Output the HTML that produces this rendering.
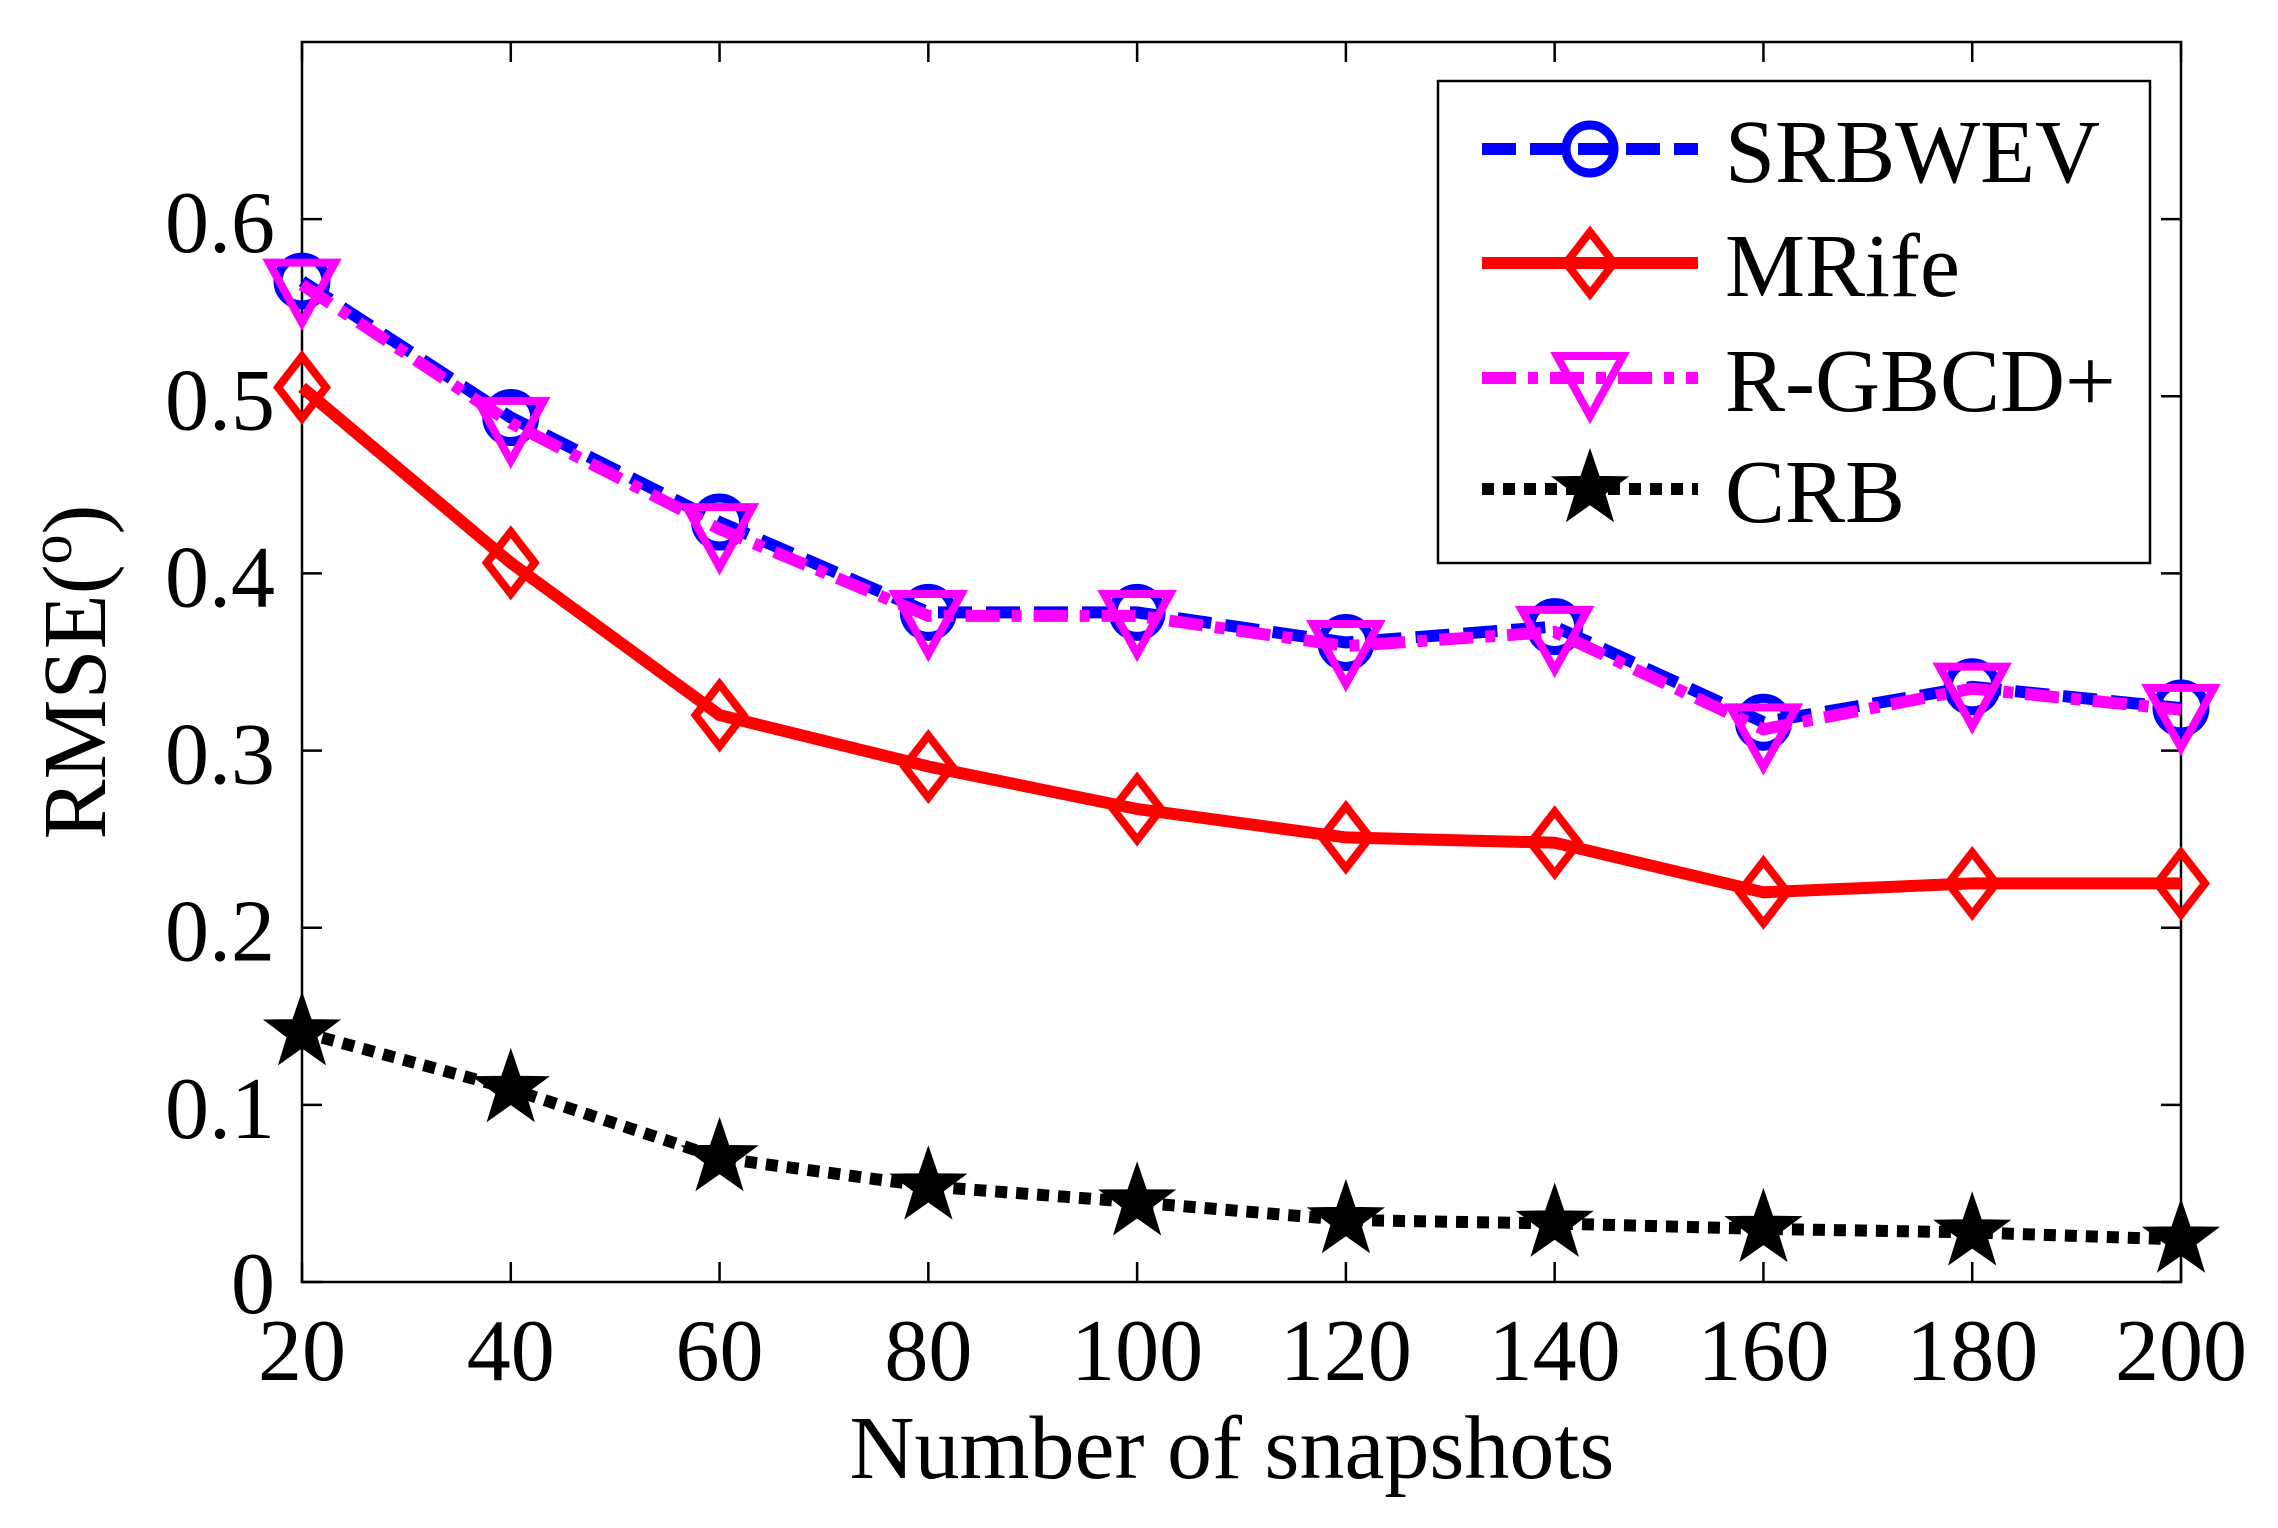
<!DOCTYPE html>
<html><head><meta charset="utf-8">
<style>
html,body{margin:0;padding:0;background:#fff;}
svg{display:block;font-family:"Liberation Serif","Times New Roman",serif;}
</style></head>
<body>
<svg id="chart" width="2278" height="1528" viewBox="0 0 2278 1528" xmlns="http://www.w3.org/2000/svg">
<rect x="0" y="0" width="2278" height="1528" fill="#fff"/>
<g id="plot"></g>
</svg>
<script>
const categories = [20,40,60,80,100,120,140,160,180,200];
const srbwev = [0.565,0.488,0.429,0.378,0.378,0.361,0.370,0.316,0.336,0.324];
const mrife = [0.505,0.406,0.320,0.291,0.267,0.251,0.248,0.220,0.225,0.225];
const rgbcd = [0.563,0.485,0.425,0.376,0.376,0.359,0.367,0.312,0.335,0.323];
const crb = [0.141,0.109,0.070,0.054,0.045,0.035,0.033,0.030,0.028,0.024];
const xTicks = [20,40,60,80,100,120,140,160,180,200];
const yTicks = [0,0.1,0.2,0.3,0.4,0.5,0.6];
const yTickLabels = ["0","0.1","0.2","0.3","0.4","0.5","0.6"];

const NS="http://www.w3.org/2000/svg";
const L=302,R=2181,T=42,B=1282;
const xmin=20,xmax=200,ymin=0,ymax=0.7;
function X(v){return L+(v-xmin)/(xmax-xmin)*(R-L);}
function Y(v){return B-(v-ymin)/(ymax-ymin)*(B-T);}
const g=document.getElementById('plot');
function mk(tag,attrs,parent){const e=document.createElementNS(NS,tag);for(const k in attrs)e.setAttribute(k,attrs[k]);(parent||g).appendChild(e);return e;}

const box=mk('rect',{x:L,y:T,width:R-L,height:B-T,fill:'none',stroke:'#000','stroke-width':2.5});



xTicks.forEach(v=>{
  const t1=mk('line',{x1:X(v),x2:X(v),y1:B,y2:B-20,stroke:'#000','stroke-width':2.5});
  
  
  const t2=mk('line',{x1:X(v),x2:X(v),y1:T,y2:T+20,stroke:'#000','stroke-width':2.5});
  
  
  const tx=mk('text',{x:X(v),y:1380,'text-anchor':'middle','font-size':88,fill:'#000'});
  tx.textContent=String(v);
  
  
});
yTicks.forEach((v,i)=>{
  const t1=mk('line',{x1:L,x2:L+20,y1:Y(v),y2:Y(v),stroke:'#000','stroke-width':2.5});
  
  
  const t2=mk('line',{x1:R,x2:R-20,y1:Y(v),y2:Y(v),stroke:'#000','stroke-width':2.5});
  
  
  const tx=mk('text',{x:275,y:Y(v)+(i===0?31:33),'text-anchor':'end','font-size':88,fill:'#000'});
  tx.textContent=yTickLabels[i];
  
  
});

const xt=mk('text',{x:1232,y:1478,'text-anchor':'middle','font-size':90,fill:'#000'});
xt.textContent='Number of snapshots';


const yt=mk('text',{x:0,y:0,'text-anchor':'middle','font-size':90,fill:'#000',transform:'translate(105,672) rotate(-90)'});


const ts1=mk('tspan',{},yt);ts1.textContent='RMSE(';
const ts2=mk('tspan',{dy:-34,'font-size':60},yt);ts2.textContent='o';
const ts3=mk('tspan',{dy:34},yt);ts3.textContent=')';

function marker(type,cx,cy,color,parent){
  let e;
  if(type==='circle'){e=mk('circle',{cx:cx,cy:cy,r:24,fill:'none',stroke:color,'stroke-width':9},parent);}
  else if(type==='diamond'){e=mk('polygon',{points:`${cx},${cy-31} ${cx+24},${cy} ${cx},${cy+31} ${cx-24},${cy}`,fill:'none',stroke:color,'stroke-width':8},parent);}
  else if(type==='tri'){e=mk('polygon',{points:`${cx-33},${cy-22} ${cx+33},${cy-22} ${cx},${cy+38}`,fill:'none',stroke:color,'stroke-width':8},parent);}
  else {
    let p=[];for(let k=0;k<10;k++){const a=-Math.PI/2+k*Math.PI/5;const r=k%2?15:38;p.push((cx+r*Math.cos(a)).toFixed(1)+','+(cy+r*Math.sin(a)).toFixed(1));}
    e=mk('polygon',{points:p.join(' '),fill:'#000',stroke:'#000','stroke-width':2},parent);
  }
  return e;
}

const series=[
 {name:'srbwev',vals:srbwev,color:'#0000ff',dash:'34 14',m:'circle',lab:'SRBWEV'},
 {name:'mrife',vals:mrife,color:'#ff0000',dash:'none',m:'diamond',lab:'MRife'},
 {name:'rgbcd',vals:rgbcd,color:'#ff00ff',dash:'34 12 10 12',m:'tri',lab:'R-GBCD+'},
 {name:'crb',vals:crb,color:'#000000',dash:'12 9',m:'star',lab:'CRB'}
];
series.forEach(s=>{
  const sg=mk('g',{});
  
  
  const pts=categories.map((c,i)=>X(c).toFixed(1)+','+Y(s.vals[i]).toFixed(1)).join(' ');
  const pl=mk('polyline',{points:pts,fill:'none',stroke:s.color,'stroke-width':12,'stroke-dasharray':s.dash},sg);
  
  
  categories.forEach((c,i)=>{
    const mm=marker(s.m,X(c),Y(s.vals[i]),s.color,sg);
    
    
  });
});

const lg=mk('g',{});


const lb=mk('rect',{x:1438,y:81,width:712,height:482,fill:'#fff',stroke:'#000','stroke-width':2.5},lg);


const rows=[149,263,378,489];
series.forEach((s,i)=>{
  const eg=mk('g',{},lg);
  
  
  mk('line',{x1:1482,x2:1698,y1:rows[i],y2:rows[i],stroke:s.color,'stroke-width':12,'stroke-dasharray':s.dash},eg);
  marker(s.m,1590,rows[i],s.color,eg);
  const t=mk('text',{x:1725,y:rows[i]+33,'font-size':90,fill:'#000'},eg);
  t.textContent=s.lab;
});
</script>
</body></html>
